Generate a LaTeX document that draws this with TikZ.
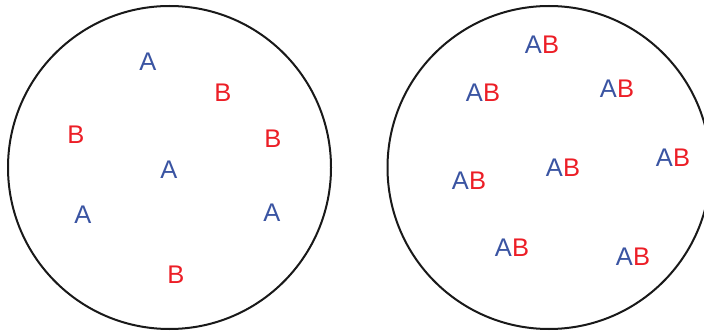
\documentclass[tikz,border=0pt]{standalone}
\usepackage{fontspec}
\setmainfont{Liberation Sans}
\usepackage{tikz}
\definecolor{ablue}{RGB}{58,84,162}
\definecolor{bred}{RGB}{236,30,38}

\begin{document}
\begin{tikzpicture}[
    x=1pt, y=-1pt,
    every node/.style={font=\fontsize{25.5}{25.5}\selectfont, inner sep=0pt},
    pool/.style={circle, draw=black!90, line width=2pt, minimum size=323pt},
    atom/.style={text=ablue},
    btom/.style={text=bred},
    pair/.style={}
]
\useasboundingbox (0,0) rectangle (704,331);

% left: separate A and B
\node (mixl) [pool] at (169.5,167.5) {};
\node (a1) [atom] at (148,62) {A};
\node (b1) [btom] at (223,93) {B};
\node (b2) [btom] at (76,135) {B};
\node (b3) [btom] at (273,139) {B};
\node (a2) [atom] at (169,170) {A};
\node (a3) [atom] at (83,215) {A};
\node (a4) [atom] at (272,213) {A};
\node (b4) [btom] at (176,275) {B};

% right: bound AB
\node (mixr) [pool] at (549,167.5) {};
\node (ab1) [pair] at (542,45) {\textcolor{ablue}{A}\textcolor{bred}{B}};
\node (ab2) [pair] at (483,93) {\textcolor{ablue}{A}\textcolor{bred}{B}};
\node (ab3) [pair] at (617,89) {\textcolor{ablue}{A}\textcolor{bred}{B}};
\node (ab4) [pair] at (673,158) {\textcolor{ablue}{A}\textcolor{bred}{B}};
\node (ab5) [pair] at (563,168) {\textcolor{ablue}{A}\textcolor{bred}{B}};
\node (ab6) [pair] at (469,181) {\textcolor{ablue}{A}\textcolor{bred}{B}};
\node (ab7) [pair] at (512,248) {\textcolor{ablue}{A}\textcolor{bred}{B}};
\node (ab8) [pair] at (633,257) {\textcolor{ablue}{A}\textcolor{bred}{B}};
\end{tikzpicture}
\end{document}
